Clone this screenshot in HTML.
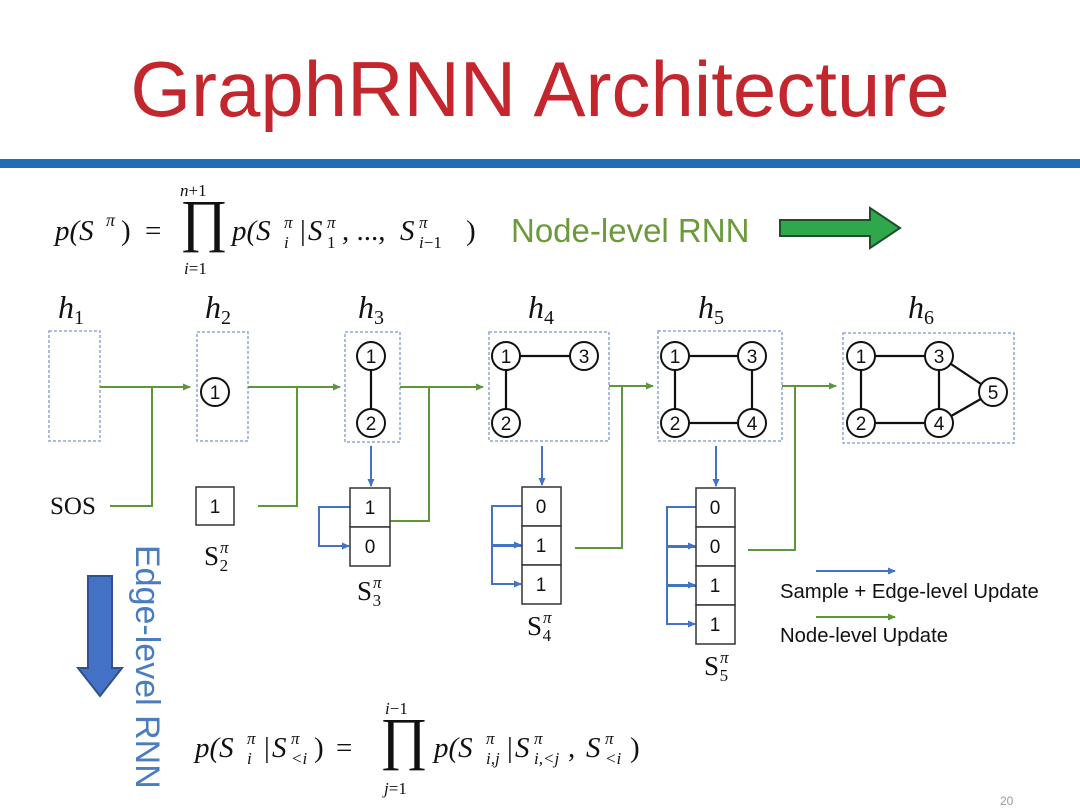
<!DOCTYPE html>
<html><head><meta charset="utf-8"><style>
html,body{margin:0;padding:0;background:#fff}
svg{display:block}
.m{font-family:"Liberation Serif",serif;font-style:italic;fill:#111}
.r{font-family:"Liberation Serif",serif;font-style:normal;fill:#111}
.n{font-family:"Liberation Sans",sans-serif;fill:#111}
</style></head><body>
<svg width="1080" height="810" viewBox="0 0 1080 810" xmlns="http://www.w3.org/2000/svg">
<defs>
<marker id="ga" markerWidth="8" markerHeight="8" refX="7" refY="4" orient="auto" markerUnits="userSpaceOnUse"><path d="M0,0.5 L8,4 L0,7.5z" fill="#5e9640"/></marker>
<marker id="ba" markerWidth="8" markerHeight="8" refX="7" refY="4" orient="auto" markerUnits="userSpaceOnUse"><path d="M0,0.5 L8,4 L0,7.5z" fill="#4472c4"/></marker>
</defs>
<text x="540" y="116" text-anchor="middle" font-family="Liberation Sans,sans-serif" font-size="78" fill="#c4262e">GraphRNN Architecture</text>
<rect x="0" y="159" width="1080" height="9" fill="#1f6db5"/>

<!-- formula 1 -->
<g class="m" font-size="29">
<text x="55" y="240">p(S</text><text x="106" y="226" font-size="18">π</text><text x="121" y="240" class="r">)</text>
<text x="145" y="240" class="r">=</text>
<text x="180" y="240" class="r" font-size="58">∏</text>
<text x="180" y="196" font-size="17">n<tspan class="r">+1</tspan></text>
<text x="184" y="274" font-size="17">i<tspan class="r">=1</tspan></text>
<text x="232" y="240">p(S</text><text x="284" y="228" font-size="17">π</text><text x="284" y="248" font-size="17">i</text>
<text x="300" y="240" class="r">|</text><text x="308" y="240">S</text><text x="327" y="228" font-size="17">π</text><text x="327" y="248" font-size="17" class="r">1</text>
<text x="342" y="240" class="r">, ..., </text><text x="400" y="240">S</text><text x="419" y="228" font-size="17">π</text><text x="419" y="248" font-size="17">i<tspan class="r">−1</tspan></text>
<text x="466" y="240" class="r">)</text>
</g>
<text x="511" y="242" font-family="Liberation Sans,sans-serif" font-size="33" fill="#6a9a3a">Node-level RNN</text>
<path d="M780,220 L870,220 L870,208 L900,228 L870,248 L870,236 L780,236z" fill="#2ea84a" stroke="#1b4e2a" stroke-width="2"/>

<!-- h labels -->
<g class="m" font-size="32">
<text x="58" y="318">h<tspan font-size="20" class="r" dy="6">1</tspan></text>
<text x="205" y="318">h<tspan font-size="20" class="r" dy="6">2</tspan></text>
<text x="358" y="318">h<tspan font-size="20" class="r" dy="6">3</tspan></text>
<text x="528" y="318">h<tspan font-size="20" class="r" dy="6">4</tspan></text>
<text x="698" y="318">h<tspan font-size="20" class="r" dy="6">5</tspan></text>
<text x="908" y="318">h<tspan font-size="20" class="r" dy="6">6</tspan></text>
</g>

<!-- dashed boxes -->
<g fill="none" stroke="#8ea8d0" stroke-width="1.5" stroke-dasharray="3,2">
<rect x="49" y="331" width="51" height="110"/>
<rect x="197" y="332" width="51" height="109"/>
<rect x="345" y="332" width="55" height="110"/>
<rect x="489" y="332" width="120" height="109"/>
<rect x="658" y="331" width="124" height="110"/>
<rect x="843" y="333" width="171" height="110"/>
</g>

<!-- green node-level -->
<g fill="none" stroke="#5e9640" stroke-width="2">
<path d="M100,387 L190,387" marker-end="url(#ga)"/><path d="M152,387 L152,506 L110,506"/>
<path d="M248,387 L340,387" marker-end="url(#ga)"/><path d="M297,387 L297,506 L258,506"/>
<path d="M400,387 L483,387" marker-end="url(#ga)"/><path d="M429,387 L429,521 L390,521"/>
<path d="M609,386 L653,386" marker-end="url(#ga)"/><path d="M622,386 L622,548 L575,548"/>
<path d="M782,386 L836,386" marker-end="url(#ga)"/><path d="M795,386 L795,550 L748,550"/>
<path d="M816,617 L895,617" marker-end="url(#ga)"/>
</g>
<text x="50" y="514" class="r" font-size="25">SOS</text>

<!-- graph edges -->
<g stroke="#111" stroke-width="2.2">
<line x1="371" y1="356" x2="371" y2="423"/>
<line x1="506" y1="356" x2="584" y2="356"/><line x1="506" y1="356" x2="506" y2="423"/>
<line x1="675" y1="356" x2="752" y2="356"/><line x1="675" y1="356" x2="675" y2="423"/><line x1="752" y1="356" x2="752" y2="423"/><line x1="675" y1="423" x2="752" y2="423"/>
<line x1="861" y1="356" x2="939" y2="356"/><line x1="861" y1="356" x2="861" y2="423"/><line x1="939" y1="356" x2="939" y2="423"/><line x1="861" y1="423" x2="939" y2="423"/><line x1="939" y1="356" x2="993" y2="392"/><line x1="939" y1="423" x2="993" y2="392"/>
</g>
<g fill="#fff" stroke="#111" stroke-width="2">
<circle cx="215" cy="392" r="14"/>
<circle cx="371" cy="356" r="14"/><circle cx="371" cy="423" r="14"/>
<circle cx="506" cy="356" r="14"/><circle cx="584" cy="356" r="14"/><circle cx="506" cy="423" r="14"/>
<circle cx="675" cy="356" r="14"/><circle cx="752" cy="356" r="14"/><circle cx="675" cy="423" r="14"/><circle cx="752" cy="423" r="14"/>
<circle cx="861" cy="356" r="14"/><circle cx="939" cy="356" r="14"/><circle cx="861" cy="423" r="14"/><circle cx="939" cy="423" r="14"/><circle cx="993" cy="392" r="14"/>
</g>
<g class="n" font-size="19" text-anchor="middle">
<text x="215" y="399">1</text>
<text x="371" y="363">1</text><text x="371" y="430">2</text>
<text x="506" y="363">1</text><text x="584" y="363">3</text><text x="506" y="430">2</text>
<text x="675" y="363">1</text><text x="752" y="363">3</text><text x="675" y="430">2</text><text x="752" y="430">4</text>
<text x="861" y="363">1</text><text x="939" y="363">3</text><text x="861" y="430">2</text><text x="939" y="430">4</text><text x="993" y="399">5</text>
</g>

<!-- blue edge-level -->
<g fill="none" stroke="#4472c4" stroke-width="2">
<path d="M371,446 L371,486" marker-end="url(#ba)"/>
<path d="M350,507 L319,507 L319,546 L349,546" marker-end="url(#ba)"/>
<path d="M542,446 L542,485" marker-end="url(#ba)"/>
<path d="M522,506 L492,506 L492,545 L521,545" marker-end="url(#ba)"/>
<path d="M522,546 L492,546 L492,584 L521,584" marker-end="url(#ba)"/>
<path d="M716,446 L716,486" marker-end="url(#ba)"/>
<path d="M696,507 L667,507 L667,546 L695,546" marker-end="url(#ba)"/>
<path d="M696,547 L667,547 L667,585 L695,585" marker-end="url(#ba)"/>
<path d="M696,586 L667,586 L667,624 L695,624" marker-end="url(#ba)"/>
<path d="M816,571 L895,571" marker-end="url(#ba)"/>
</g>

<!-- stacks -->
<g fill="#fff" stroke="#333" stroke-width="1.5">
<rect x="196" y="487" width="38" height="38"/>
<rect x="350" y="488" width="40" height="39"/><rect x="350" y="527" width="40" height="39"/>
<rect x="522" y="487" width="39" height="39"/><rect x="522" y="526" width="39" height="39"/><rect x="522" y="565" width="39" height="39"/>
<rect x="696" y="488" width="39" height="39"/><rect x="696" y="527" width="39" height="39"/><rect x="696" y="566" width="39" height="39"/><rect x="696" y="605" width="39" height="39"/>
</g>
<g class="n" font-size="19" text-anchor="middle">
<text x="215" y="513">1</text>
<text x="370" y="514">1</text><text x="370" y="553">0</text>
<text x="541" y="513">0</text><text x="541" y="552">1</text><text x="541" y="591">1</text>
<text x="715" y="514">0</text><text x="715" y="553">0</text><text x="715" y="592">1</text><text x="715" y="631">1</text>
</g>
<g class="r" font-size="27">
<text x="204" y="565">S<tspan font-size="17" dx="1" dy="-12" class="m">π</tspan><tspan font-size="17" dx="-9" dy="18">2</tspan></text>
<text x="357" y="600">S<tspan font-size="17" dx="1" dy="-12" class="m">π</tspan><tspan font-size="17" dx="-9" dy="18">3</tspan></text>
<text x="527" y="635">S<tspan font-size="17" dx="1" dy="-12" class="m">π</tspan><tspan font-size="17" dx="-9" dy="18">4</tspan></text>
<text x="704" y="675">S<tspan font-size="17" dx="1" dy="-12" class="m">π</tspan><tspan font-size="17" dx="-9" dy="18">5</tspan></text>
</g>

<g class="n" font-size="20.3">
<text x="780" y="598">Sample + Edge-level Update</text>
<text x="780" y="642">Node-level Update</text>
</g>

<!-- edge level rnn -->
<path d="M88,576 L112,576 L112,668 L122,668 L100,696 L78,668 L88,668z" fill="#4472c4" stroke="#2f528f" stroke-width="2"/>
<text transform="translate(136,545) rotate(90)" font-family="Liberation Sans,sans-serif" font-size="34" fill="#4a7cc0">Edge-level RNN</text>

<!-- formula 2 -->
<g class="m" font-size="29">
<text x="195" y="757">p(S</text><text x="247" y="744" font-size="17">π</text><text x="247" y="764" font-size="17">i</text>
<text x="264" y="757" class="r">|</text><text x="272" y="757">S</text><text x="291" y="744" font-size="17">π</text><text x="291" y="764" font-size="17">&lt;i</text>
<text x="314" y="757" class="r">)</text><text x="336" y="757" class="r">=</text>
<text x="380" y="758" class="r" font-size="58">∏</text>
<text x="385" y="714" font-size="17">i<tspan class="r">−1</tspan></text>
<text x="384" y="794" font-size="17">j<tspan class="r">=1</tspan></text>
<text x="434" y="757">p(S</text><text x="486" y="744" font-size="17">π</text><text x="486" y="764" font-size="17">i,j</text>
<text x="507" y="757" class="r">|</text><text x="515" y="757">S</text><text x="534" y="744" font-size="17">π</text><text x="534" y="764" font-size="17">i,&lt;j</text>
<text x="568" y="757" class="r">, </text><text x="586" y="757">S</text><text x="605" y="744" font-size="17">π</text><text x="605" y="764" font-size="17">&lt;i</text>
<text x="630" y="757" class="r">)</text>
</g>
<text x="1000" y="805" font-family="Liberation Sans,sans-serif" font-size="12" fill="#999">20</text>
</svg>
</body></html>
